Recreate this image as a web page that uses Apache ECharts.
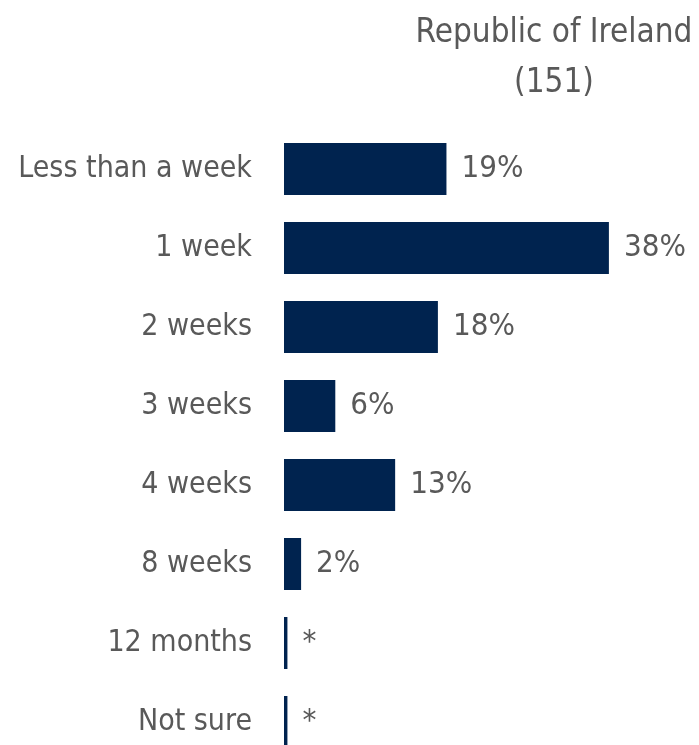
<!DOCTYPE html>
<html>
<head>
<meta charset="utf-8">
<script src="https://cdn.jsdelivr.net/npm/echarts@6/dist/echarts.min.js"></script>
<style>
  html, body { margin: 0; padding: 0; background: #fff; }
  #chart { width: 699px; height: 745px; }
</style>
</head>
<body>
<div id="chart"></div>
<script>
// survey answers, top to bottom
var categories = ['Less than a week', '1 week', '2 weeks', '3 weeks', '4 weeks', '8 weeks', '12 months', 'Not sure'];
var values = [19, 38, 18, 6, 13, 2, 0.4, 0.4];
var valueLabels = ['19%', '38%', '18%', '6%', '13%', '2%', '*', '*'];

var FONT = '"DejaVu Sans Condensed", sans-serif';
var TEXT = '#595959';

var chart = echarts.init(document.getElementById('chart'));
chart.setOption({
  animation: false,
  title: {
    text: 'Republic of Ireland\n(151)',
    left: 549,
    top: 3,
    textAlign: 'center',
    textStyle: {
      fontFamily: FONT,
      fontSize: 33,
      fontWeight: 'normal',
      color: TEXT,
      lineHeight: 50
    }
  },
  grid: {
    left: 284,
    width: 342,
    top: 129.5,
    bottom: -16.5,
    outerBoundsMode: 'none'
  },
  xAxis: {
    type: 'value',
    min: 0,
    max: 40,
    show: false
  },
  yAxis: {
    type: 'category',
    inverse: true,
    data: categories,
    axisLine: { show: false },
    axisTick: { show: false },
    axisLabel: {
      margin: 32,
      fontFamily: FONT,
      fontSize: 30,
      color: TEXT
    }
  },
  series: [{
    type: 'bar',
    data: values,
    barWidth: 52,
    itemStyle: { color: '#00234f' },
    label: {
      show: true,
      position: 'right',
      distance: 15,
      fontFamily: FONT,
      fontSize: 31,
      color: TEXT,
      formatter: function (p) { return valueLabels[p.dataIndex]; }
    }
  }]
});
</script>
</body>
</html>
